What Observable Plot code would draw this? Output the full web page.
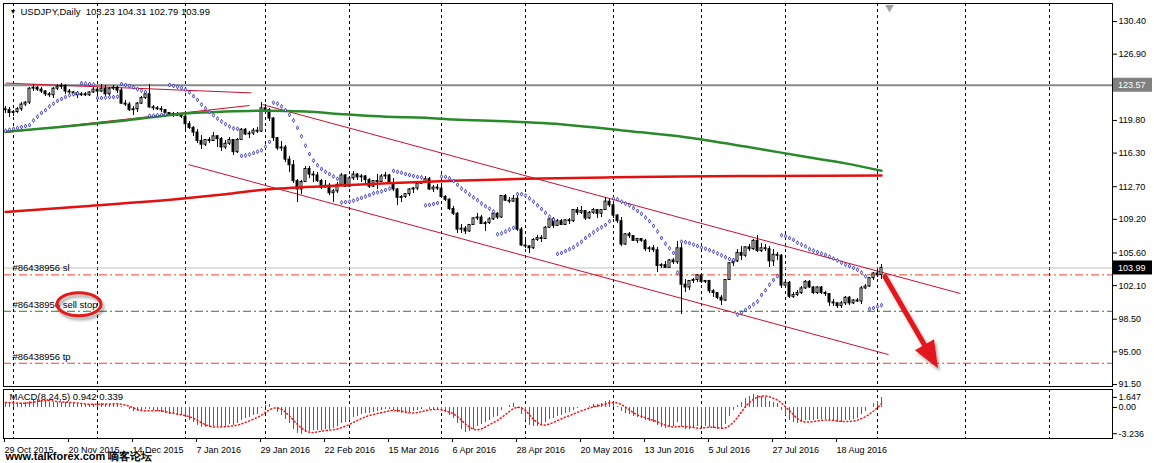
<!DOCTYPE html>
<html><head><meta charset="utf-8">
<script src="https://cdn.jsdelivr.net/npm/d3@7"></script>
<script src="https://cdn.jsdelivr.net/npm/@observablehq/plot@0.6"></script>
<style>
html,body{margin:0;padding:0;background:#fff;}
#chart{position:relative;width:1154px;height:463px;overflow:hidden;background:#fff;}
#chart svg{position:absolute;left:0;}
</style></head><body><div id="chart"></div>
<script>
// ---------- DATA ----------
const symbolTitle = "USDJPY,Daily  103.23 104.31 102.79 103.99";
const macdTitle = "MACD(8,24,5) 0.942 0.339";
const watermark = "www.talkforex.com 嘀客论坛";
const dateLabels = ["29 Oct 2015","20 Nov 2015","14 Dec 2015","7 Jan 2016","29 Jan 2016","22 Feb 2016","15 Mar 2016","6 Apr 2016","28 Apr 2016","20 May 2016","13 Jun 2016","5 Jul 2016","27 Jul 2016","18 Aug 2016"];
const dateLabelBars = [0,16,32,48,64,80,96,112,128,144,160,176,192,208];
const monthStartBars = [2,23,45,65,86,109,130,152,174,195,218,240,261];
const priceTicks = [130.40,126.90,119.80,116.30,112.70,109.20,105.60,102.10,98.50,95.00,91.50];
const markedPrices = [123.57, 103.99];
const orderNames = ["#86438956 sl","#86438956 sell stop","#86438956 tp"];
const orderPrices = [103.25, 99.35, 93.78];
const macdTicks = [1.647, 0, -3.236];

// daily candles [open, high, low, close], bar 0 = 29 Oct 2015 ... bar 219 = 2 Sep 2016
const ohlc = [
[121.0,121.3,120.5,120.9],[120.9,121.2,120.1,120.6],[120.6,120.9,120.2,120.7],[120.7,121.2,120.5,121.0],[121.0,121.7,120.8,121.5],
[121.5,121.8,121.3,121.7],[121.7,123.3,121.5,123.2],[123.2,123.6,122.9,123.3],[123.3,123.4,122.9,123.1],[123.1,123.3,122.7,122.9],
[122.9,123.0,122.4,122.6],[122.6,122.8,122.3,122.5],[122.5,123.3,122.2,123.2],[123.2,123.6,123.0,123.4],[123.4,123.8,123.1,123.5],
[123.5,123.6,122.6,122.9],[122.9,123.1,122.6,122.8],[122.8,122.9,122.4,122.7],[122.7,122.9,122.2,122.5],[122.5,122.8,122.4,122.6],
[122.6,122.8,122.4,122.5],[122.5,122.9,122.4,122.8],[122.8,123.3,122.7,123.1],[123.1,123.3,122.6,122.9],[122.9,123.6,122.8,123.2],
[123.2,123.5,122.3,122.6],[122.6,123.3,122.5,123.2],[123.2,123.5,123.0,123.3],[123.3,123.4,122.7,123.0],[123.0,123.2,121.5,121.6],
[121.6,121.9,121.3,121.5],[121.5,121.7,120.8,120.9],[120.9,121.3,120.3,121.0],[121.0,121.7,120.6,121.6],[121.6,122.4,121.5,122.2],
[122.2,122.7,122.0,122.6],[122.6,123.6,121.1,121.2],[121.2,121.4,120.9,121.1],[121.1,121.3,120.9,121.0],[121.0,121.3,120.7,120.9],
[120.9,121.0,120.4,120.6],[120.6,120.7,120.2,120.4],[120.4,120.6,120.1,120.5],[120.5,120.6,120.2,120.3],[120.3,120.5,120.0,120.2],
[120.2,120.5,118.7,119.4],[119.4,119.7,118.8,119.0],[119.0,119.1,118.1,118.5],[118.5,118.8,117.3,117.6],[117.6,118.2,116.7,117.2],
[117.2,117.8,117.0,117.7],[117.7,118.0,117.3,117.6],[117.6,118.5,117.5,118.1],[118.1,118.2,116.9,117.8],[117.8,118.0,116.5,116.9],
[116.9,117.6,116.7,117.3],[117.3,118.0,117.1,117.7],[117.7,117.8,116.0,116.4],[116.4,117.9,116.3,117.7],[117.7,118.9,117.6,118.8],
[118.8,118.9,118.2,118.3],[118.3,118.6,117.9,118.4],[118.4,118.9,118.2,118.7],[118.7,119.0,118.4,118.6],[118.6,121.7,118.5,121.1],
[121.1,121.5,120.7,120.9],[120.9,121.1,119.7,120.0],[120.0,120.1,117.5,117.9],[117.9,118.0,116.6,116.8],[116.8,117.5,116.5,116.9],
[116.9,117.1,115.3,115.6],[115.6,115.9,114.2,115.0],[115.0,115.5,113.0,113.3],[113.3,113.5,111.0,112.4],[112.4,113.4,111.9,113.2],
[113.2,114.9,113.1,114.6],[114.6,114.9,113.6,114.0],[114.0,114.3,113.2,113.9],[113.9,114.2,113.1,113.3],[113.3,113.5,112.4,112.6],
[112.6,113.4,112.5,112.8],[112.8,113.0,111.8,112.0],[112.0,112.4,111.0,112.2],[112.2,113.1,112.0,112.9],[112.9,114.1,112.8,113.9],
[113.9,114.0,112.6,112.7],[112.7,113.8,112.6,113.6],[113.6,114.3,113.4,114.0],[114.0,114.1,113.4,113.7],[113.7,114.0,113.1,113.8],
[113.8,113.9,113.0,113.4],[113.4,113.6,112.5,112.7],[112.7,113.4,112.6,113.3],[113.3,114.0,112.4,113.2],[113.2,114.0,113.1,113.8],
[113.8,114.2,113.5,113.9],[113.9,114.0,112.9,113.1],[113.1,113.6,112.2,112.4],[112.4,112.5,110.7,111.5],[111.5,111.8,111.0,111.6],
[111.6,112.0,111.4,111.9],[111.9,112.5,111.7,112.4],[112.4,112.6,112.0,112.5],[112.5,113.1,112.3,113.0],[113.0,113.2,112.9,113.1],
[113.1,113.8,113.0,113.5],[113.5,113.7,112.3,112.4],[112.4,112.8,112.1,112.6],[112.6,112.9,112.3,112.5],[112.5,112.7,111.4,111.6],
[111.6,111.8,111.1,111.3],[111.3,111.4,110.1,110.3],[110.3,110.6,109.6,109.8],[109.8,109.9,107.7,108.1],[108.1,108.7,107.7,108.2],
[108.2,108.4,107.6,107.9],[107.9,108.7,107.8,108.6],[108.6,109.4,108.5,109.3],[109.3,109.8,109.1,109.4],[109.4,109.6,108.6,108.7],
[108.7,109.0,107.9,108.8],[108.8,109.4,108.6,109.2],[109.2,110.0,109.1,109.8],[109.8,109.9,109.2,109.4],[109.4,111.8,109.3,111.7],
[111.7,111.9,111.1,111.2],[111.2,111.5,110.9,111.1],[111.1,111.8,111.0,111.4],[111.4,111.9,107.9,108.1],[108.1,108.3,106.3,106.4],
[106.4,106.9,106.1,106.3],[106.3,106.4,105.5,106.1],[106.1,107.2,106.0,107.0],[107.0,107.5,106.8,107.2],[107.2,107.5,106.7,107.1],
[107.1,108.4,107.0,108.3],[108.3,109.3,108.2,109.2],[109.2,109.4,108.2,108.5],[108.5,109.2,108.4,109.0],[109.0,109.2,108.5,108.6],
[108.6,109.2,108.5,109.1],[109.1,109.3,108.7,109.0],[109.0,110.3,108.9,110.2],[110.2,110.5,109.6,109.9],[109.9,110.6,109.7,110.1],
[110.1,110.2,109.1,109.3],[109.3,110.0,109.2,109.9],[109.9,110.4,109.7,110.2],[110.2,110.3,109.3,109.8],[109.8,110.3,109.4,110.2],
[110.2,111.5,110.2,111.1],[111.1,111.3,110.5,110.7],[110.7,110.8,109.3,109.6],[109.6,109.7,108.8,109.0],[109.0,109.4,106.3,106.5],
[106.5,107.7,106.4,107.6],[107.6,107.8,107.2,107.4],[107.4,107.5,106.8,106.9],[106.9,107.2,106.6,107.1],[107.1,107.2,106.7,106.9],
[106.9,107.0,105.8,106.0],[106.0,106.3,105.7,106.1],[106.1,106.4,105.6,105.9],[105.9,106.2,103.5,104.2],[104.2,104.5,103.9,104.3],
[104.3,104.7,103.9,104.0],[104.0,104.9,103.9,104.8],[104.8,105.0,104.4,104.6],[104.6,106.8,104.4,106.1],[106.1,106.8,99.0,102.2],
[102.2,102.8,101.4,101.9],[101.9,102.7,101.6,102.6],[102.6,102.9,102.3,102.7],[102.7,103.3,102.4,103.2],[103.2,103.4,102.3,102.5],
[102.5,102.7,102.3,102.6],[102.6,102.7,101.3,101.5],[101.5,101.7,100.8,101.3],[101.3,101.4,100.6,100.8],[100.8,101.0,100.0,100.5],
[100.5,102.8,100.4,102.7],[102.7,104.6,102.6,104.5],[104.5,105.0,104.2,104.7],[104.7,106.0,104.6,105.6],[105.6,106.3,104.8,105.3],
[105.3,106.3,105.1,106.2],[106.2,106.5,105.8,106.0],[106.0,107.0,105.9,106.9],[106.9,107.5,105.6,105.8],[105.8,106.6,105.6,106.1],
[106.1,106.5,105.8,106.0],[106.0,106.3,104.0,104.7],[104.7,106.0,104.2,105.4],[105.4,105.6,104.8,105.3],[105.3,105.4,101.8,102.1],
[102.1,102.8,102.0,102.4],[102.4,102.5,100.7,100.9],[100.9,101.4,100.7,101.1],[101.1,101.6,100.9,101.3],[101.3,102.0,101.1,101.8],
[101.8,102.6,101.7,102.5],[102.5,102.7,101.8,101.9],[101.9,102.0,101.1,101.3],[101.3,102.0,101.2,101.9],[101.9,102.0,101.1,101.3],
[101.3,101.5,100.9,101.2],[101.2,101.3,99.9,100.3],[100.3,100.6,99.9,100.2],[100.2,100.3,99.6,99.9],[99.9,100.4,99.7,100.2],
[100.2,100.9,100.0,100.8],[100.8,100.9,100.0,100.2],[100.2,100.6,100.1,100.5],[100.5,100.7,100.3,100.4],[100.4,102.0,100.1,101.8],
[101.8,102.2,101.7,102.0],[102.0,103.0,101.9,102.9],[102.9,103.5,102.7,103.4],[103.4,103.8,103.0,103.2],[103.23,104.31,102.79,103.99]
];

// Parabolic SAR, one value per bar
const sar = [
118.7,118.8,118.9,119.0,119.1,119.2,119.3,119.8,120.2,120.6,120.9,121.3,121.6,121.9,122.1,122.3,122.5,122.6,122.7,
123.8,123.75,123.7,123.65,
122.2,122.2,122.25,122.3,122.3,122.35,
123.7,123.6,123.5,123.35,123.15,123.0,122.85,
120.3,120.3,120.35,120.4,120.45,
123.6,123.5,123.4,123.3,123.1,122.8,122.4,122.0,121.5,121.1,120.7,120.35,120.0,119.7,119.4,119.15,118.95,118.9,
116.0,116.05,116.15,116.3,116.45,116.6,117.0,117.5,
121.7,121.6,121.3,120.9,120.4,119.8,119.0,118.1,117.1,116.2,115.5,115.0,114.6,114.3,114.05,113.8,113.55,
111.0,111.05,111.1,111.2,111.35,111.5,111.65,111.8,112.0,112.1,112.2,112.35,112.5,
114.4,114.3,114.2,114.05,113.95,113.85,113.75,113.7,
110.7,110.75,110.85,110.95,
113.8,113.75,113.6,113.3,112.9,112.5,112.2,111.85,111.55,111.25,110.9,110.6,110.35,110.05,
107.6,107.7,107.9,108.1,108.3,
111.9,111.9,111.75,111.45,111.1,110.7,110.3,109.9,109.5,109.15,
105.5,105.6,105.8,106.0,106.2,106.5,106.8,107.2,107.5,107.8,108.1,108.35,108.6,109.0,
111.45,111.35,111.1,110.9,110.7,110.4,110.1,109.8,109.4,109.0,108.5,107.9,107.2,106.6,106.1,105.6,103.5,
106.8,106.75,106.65,106.5,106.35,106.2,106.05,105.9,105.75,105.55,105.35,105.15,104.95,104.85,
99.0,99.2,99.5,99.8,100.1,100.4,101.1,101.6,102.2,102.7,103.1,
107.5,107.4,107.2,107.0,106.7,106.5,106.3,106.0,105.85,105.7,105.55,105.4,105.2,105.0,104.8,104.55,104.35,104.2,104.0,103.8,103.5,103.1,
99.6,99.7,99.85,100.0
];

// moving averages read at sample bars
const maGreenBars = [0,15,30,45,55,65,75,85,95,105,112,125,140,155,170,185,200,210,219];
const maGreen = [118.6,119.15,119.8,120.55,120.75,120.85,120.75,120.45,120.2,120.1,119.9,119.7,119.35,118.7,118.0,117.0,115.9,115.2,114.4];
const maRedBars = [0,20,45,55,65,82,97,112,130,152,169,190,219];
const maRed = [110.0,110.6,111.45,111.9,112.4,112.8,113.1,113.35,113.55,113.7,113.8,113.85,113.9];

// drawn trend / channel lines (bar, price)
const trendLines = [
  {b1:0, p1:123.8, b2:61.5, p2:122.75},
  {b1:0, p1:118.5, b2:61, p2:121.4},
  {b1:64.25, p1:121.5, b2:238.75, p2:101.25},
  {b1:45.75, p1:115.07, b2:220.75, p2:94.71}
];
const arrowAnnot = {b1:220, p1:103.0, b2:233.25, p2:93.2};
const ellipseAnnot = {b:18.5, p:100.05};
const shiftMarkerBar = 221;

// MACD(8,24,5): main (histogram) and signal
const macdHist = [
0.45,0.40,0.35,0.35,0.40,0.45,0.60,0.70,0.75,0.70,
0.60,0.50,0.50,0.50,0.50,0.45,0.40,0.35,0.30,0.25,
0.25,0.25,0.30,0.30,0.35,0.30,0.30,0.35,0.35,0.10,
-0.10,-0.30,-0.50,-0.50,-0.40,-0.25,-0.30,-0.40,-0.50,-0.55,
-0.65,-0.75,-0.80,-0.85,-0.90,-1.10,-1.35,-1.60,-1.90,-2.10,
-2.10,-2.10,-2.00,-1.95,-2.05,-1.95,-1.80,-1.85,-1.65,-1.35,
-1.20,-1.05,-0.90,-0.80,-0.20,0.20,0.30,-0.10,-0.60,-0.90,
-1.30,-1.70,-2.30,-2.70,-2.80,-2.60,-2.50,-2.40,-2.40,-2.40,
-2.30,-2.30,-2.20,-2.00,-1.70,-1.60,-1.40,-1.10,-1.00,-0.80,
-0.70,-0.70,-0.60,-0.50,-0.35,-0.25,-0.25,-0.35,-0.60,-0.70,
-0.70,-0.60,-0.50,-0.35,-0.25,-0.10,-0.25,-0.30,-0.30,-0.50,
-0.60,-0.90,-1.20,-1.70,-2.30,-2.60,-2.50,-2.30,-2.00,-1.80,
-1.60,-1.40,-1.10,-0.95,-0.40,0.00,0.20,0.35,-0.20,-0.80,
-1.40,-1.90,-2.00,-1.95,-1.85,-1.60,-1.30,-1.20,-1.00,-0.90,
-0.70,-0.60,-0.35,-0.20,-0.05,0.00,0.10,0.25,0.25,0.35,
0.60,0.65,0.40,0.10,-0.50,-0.70,-0.80,-1.00,-1.10,-1.20,
-1.40,-1.50,-1.60,-1.90,-2.10,-2.20,-2.10,-2.00,-1.60,-2.00,
-2.30,-2.30,-2.20,-2.00,-2.00,-2.00,-2.10,-2.20,-2.30,-2.30,
-1.80,-1.00,-0.40,0.20,0.50,0.90,1.10,1.30,1.20,1.10,
1.00,0.60,0.50,0.35,-0.40,-0.90,-1.40,-1.60,-1.70,-1.60,
-1.40,-1.35,-1.40,-1.30,-1.30,-1.30,-1.40,-1.50,-1.60,-1.55,
-1.40,-1.35,-1.25,-1.15,-0.75,-0.45,-0.05,0.35,0.55,0.942
];
const macdSignal = [
0.45,0.45,0.42,0.40,0.39,0.39,0.43,0.50,0.58,0.64,
0.67,0.65,0.61,0.56,0.52,0.49,0.47,0.44,0.40,0.35,
0.31,0.28,0.27,0.27,0.29,0.30,0.31,0.32,0.33,0.28,
0.20,0.08,-0.09,-0.26,-0.36,-0.39,-0.39,-0.37,-0.37,-0.40,
-0.48,-0.57,-0.65,-0.72,-0.79,-0.88,-1.00,-1.16,-1.37,-1.61,
-1.81,-1.96,-2.04,-2.05,-2.04,-2.01,-1.95,-1.92,-1.86,-1.72,
-1.57,-1.42,-1.23,-1.06,-0.83,-0.55,-0.28,-0.12,-0.08,-0.22,
-0.52,-0.92,-1.36,-1.78,-2.16,-2.42,-2.58,-2.60,-2.54,-2.46,
-2.40,-2.36,-2.32,-2.24,-2.10,-1.96,-1.78,-1.56,-1.36,-1.18,
-1.00,-0.86,-0.76,-0.66,-0.57,-0.48,-0.39,-0.34,-0.36,-0.43,
-0.52,-0.59,-0.62,-0.57,-0.48,-0.36,-0.29,-0.25,-0.24,-0.29,
-0.39,-0.52,-0.70,-0.98,-1.34,-1.74,-2.06,-2.28,-2.34,-2.24,
-2.04,-1.82,-1.58,-1.37,-1.09,-0.77,-0.45,-0.16,-0.01,-0.09,
-0.37,-0.79,-1.26,-1.61,-1.82,-1.86,-1.74,-1.58,-1.39,-1.20,
-1.02,-0.88,-0.71,-0.55,-0.38,-0.24,-0.10,0.02,0.11,0.19,
0.31,0.42,0.45,0.42,0.25,-0.01,-0.30,-0.58,-0.82,-0.96,
-1.10,-1.24,-1.36,-1.52,-1.70,-1.86,-1.98,-2.06,-2.00,-1.98,
-2.00,-2.04,-2.08,-2.16,-2.16,-2.10,-2.06,-2.06,-2.12,-2.18,
-2.14,-1.92,-1.56,-1.06,-0.50,0.04,0.46,0.80,1.00,1.12,
1.14,1.04,0.88,0.71,0.41,0.03,-0.37,-0.79,-1.20,-1.44,
-1.54,-1.53,-1.49,-1.41,-1.35,-1.33,-1.34,-1.36,-1.42,-1.47,
-1.49,-1.48,-1.43,-1.34,-1.18,-0.99,-0.73,-0.41,-0.07,0.339
];

// ---------- CHART ----------
const FONT = "'Liberation Sans', Arial, sans-serif";
const bars = ohlc.map(([o,h,l,c],i)=>({i,o,h,l,c}));
const bull = bars.filter(d=>d.c>=d.o), bear = bars.filter(d=>d.c<d.o);
const sarData = sar.map((v,i)=>({i,v}));
const greenData = maGreenBars.map((b,k)=>({b, v:maGreen[k]}));
const redData = maRedBars.map((b,k)=>({b, v:maRed[k]}));
const orders = orderNames.map((n,k)=>({n, p:orderPrices[k]}));
const histData = macdHist.map((v,i)=>({i,v}));
const xDomain = [-0.5, 276.75];
const RED_ORDER = "#e8452c", GREEN_ORDER = "#2f7a2f", DASHDOT = "8,3,2,3";

const main = Plot.plot({
  width: 1154, height: 388,
  marginTop: 3, marginBottom: 2, marginLeft: 3, marginRight: 42,
  style: {fontFamily: FONT, fontSize: "9px", background: "transparent", overflow: "visible"},
  x: {domain: xDomain, axis: null},
  y: {domain: [91.29, 132.33], axis: null},
  marks: [
    Plot.ruleX(monthStartBars, {x: d=>d, stroke: "#000", strokeDasharray: "3,3"}),
    Plot.ruleY([markedPrices[0]], {y: d=>d, stroke: "#888", strokeWidth: 2}),
    Plot.ruleY([markedPrices[1]], {y: d=>d, stroke: "#c0c0c0"}),
    Plot.ruleY([orderPrices[0], orderPrices[2]], {y: d=>d, stroke: RED_ORDER, strokeDasharray: DASHDOT}),
    Plot.ruleY([orderPrices[1]], {y: d=>d, stroke: GREEN_ORDER, strokeDasharray: DASHDOT}),
    Plot.link(trendLines, {x1:"b1", y1:"p1", x2:"b2", y2:"p2", stroke: "#c8102e", strokeWidth: 1}),
    Plot.ruleX(bars, {x:"i", y1:"l", y2:"h", stroke:"#000", shapeRendering:"crispEdges"}),
    Plot.rect(bull, {x1: d=>d.i-0.25, x2: d=>d.i+0.25, y1:"o", y2:"c", fill:"#fff", stroke:"#000"}),
    Plot.rect(bear, {x1: d=>d.i-0.25, x2: d=>d.i+0.25, y1:"o", y2:"c", fill:"#000", stroke:"#000"}),
    Plot.line(greenData, {x:"b", y:"v", stroke:"#2a8a2a", strokeWidth: 2.5, curve:"monotone-x"}),
    Plot.line(redData, {x:"b", y:"v", stroke:"#e31010", strokeWidth: 2.5, curve:"monotone-x"}),
    Plot.dot(sarData, {x:"i", y:"v", symbol:"diamond", r:1.2, fill:"#fff", stroke:"#1a1ab4", strokeWidth:0.8}),
    Plot.dot([shiftMarkerBar], {x: d=>d, frameAnchor:"top", dy: 4, symbol:"triangle", rotate: 180, r: 3.2, fill:"#a0a0a0"}),
    Plot.text(["▼"], {text: d=>d, frameAnchor:"top-left", dx: 6, dy: 6, fontSize: 7}),
    Plot.text([symbolTitle], {text: d=>d, frameAnchor:"top-left", dx: 17, dy: 5, fontSize: 9.5, fill:"#000"}),
    Plot.text(orders, {text:"n", y:"p", frameAnchor:"left", dx: 9, dy: -6.5, fontSize: 9.5, fill:"#000"}),
    Plot.frame({stroke:"#000"}),
    Plot.axisY(priceTicks, {anchor:"right", tickSize: 4, tickPadding: 2, tickFormat: d=>d.toFixed(2), label: null, fontSize: 9})
  ]
});

const macd = Plot.plot({
  width: 1154, height: 77,
  marginTop: 3, marginBottom: 25, marginLeft: 3, marginRight: 42,
  style: {fontFamily: FONT, fontSize: "9px", background: "transparent", overflow: "visible"},
  x: {domain: xDomain, axis: null},
  y: {domain: [-3.214, 1.786], axis: null},
  marks: [
    Plot.ruleX(monthStartBars, {x: d=>d, stroke:"#000", strokeDasharray:"3,3"}),
    Plot.rect(histData, {x1: d=>d.i-0.125, x2: d=>d.i+0.125, y1: 0, y2:"v", fill:"#00a000", shapeRendering:"crispEdges"}),
    Plot.line(macdSignal.map((v,i)=>({i,v})), {x:"i", y:"v", stroke:"#ff1010", strokeDasharray:"1,2.6"}),
    Plot.frame({stroke:"#000"}),
    Plot.axisY([macdTicks[0]], {anchor:"right", tickSize: 4, tickPadding: 2, tickFormat: d=>d.toFixed(3), label:null, dy: 6.5}),
    Plot.axisY([macdTicks[1]], {anchor:"right", tickSize: 4, tickPadding: 2, tickFormat: d=>d.toFixed(2), label:null, dy: 0.5}),
    Plot.axisY([macdTicks[2]], {anchor:"right", tickSize: 4, tickPadding: 2, tickFormat: d=>d.toFixed(3), label:null, dy: -5}),
    Plot.axisX(dateLabelBars, {anchor:"bottom", tickSize: 4, tickPadding: 4, textAnchor:"start", dx: -1, label: null,
      tickFormat: d=>dateLabels[dateLabelBars.indexOf(d)], fontSize: 9}),
    Plot.text([macdTitle], {text: d=>d, frameAnchor:"top-left", dx: 6, dy: 3.5, fontSize: 9.5, fill:"#000"}),
    Plot.text([watermark], {text: d=>d, frameAnchor:"bottom-left", dx: 2, dy: 21, fontSize: 11, fontWeight:"bold", fill:"#000"})
  ]
});

const root = document.getElementById("chart");
main.style.top = "0px";
macd.style.top = "386px";
root.appendChild(main);
root.appendChild(macd);

// ---------- overlays drawn through the plot's scales ----------
const sx = main.scale("x"), sy = main.scale("y");
const svg = d3.select(main);
const defs = svg.append("defs");
defs.append("filter").attr("id","shadow").attr("x","-50%").attr("y","-50%").attr("width","200%").attr("height","200%")
  .append("feDropShadow").attr("dx",2).attr("dy",3).attr("stdDeviation",1.6).attr("flood-color","#000").attr("flood-opacity",0.35);
const ov = svg.append("g").attr("text-anchor","start");
const axisX = sx.range[1];
markedPrices.forEach((p,k)=>{
  const y = sy.apply(p);
  ov.append("rect").attr("x", axisX + 1).attr("y", y - 7).attr("width", 39).attr("height", 14).attr("fill", k ? "#000" : "#808080");
  ov.append("text").attr("x", axisX + 6).attr("y", y).attr("dy","0.36em").attr("fill","#fff").attr("text-anchor","start")
    .attr("font-family", FONT).attr("font-size", 9).text(p.toFixed(2));
});
// red arrow
{
  const x1 = sx.apply(arrowAnnot.b1), y1 = sy.apply(arrowAnnot.p1);
  const x2 = sx.apply(arrowAnnot.b2), y2 = sy.apply(arrowAnnot.p2);
  const a = Math.atan2(y2-y1, x2-x1), L = 27, W = 11;
  const bx = x2 - L*Math.cos(a), by = y2 - L*Math.sin(a);
  const g = ov.append("g").attr("filter","url(#shadow)");
  g.append("line").attr("x1",x1).attr("y1",y1).attr("x2",bx + 3*Math.cos(a)).attr("y2",by + 3*Math.sin(a))
    .attr("stroke","#e3171b").attr("stroke-width",5).attr("stroke-linecap","round");
  g.append("path").attr("d", `M${x2},${y2}L${bx + W*Math.sin(a)},${by - W*Math.cos(a)}L${bx - W*Math.sin(a)},${by + W*Math.cos(a)}Z`)
    .attr("fill","#e3171b");
}
// ellipse around "sell stop"
ov.append("ellipse").attr("cx", sx.apply(ellipseAnnot.b)).attr("cy", sy.apply(ellipseAnnot.p))
  .attr("rx", 22).attr("ry", 11.5).attr("fill","none").attr("stroke","#e01a1a").attr("stroke-width",3)
  .attr("filter","url(#shadow)");
</script></body></html>
